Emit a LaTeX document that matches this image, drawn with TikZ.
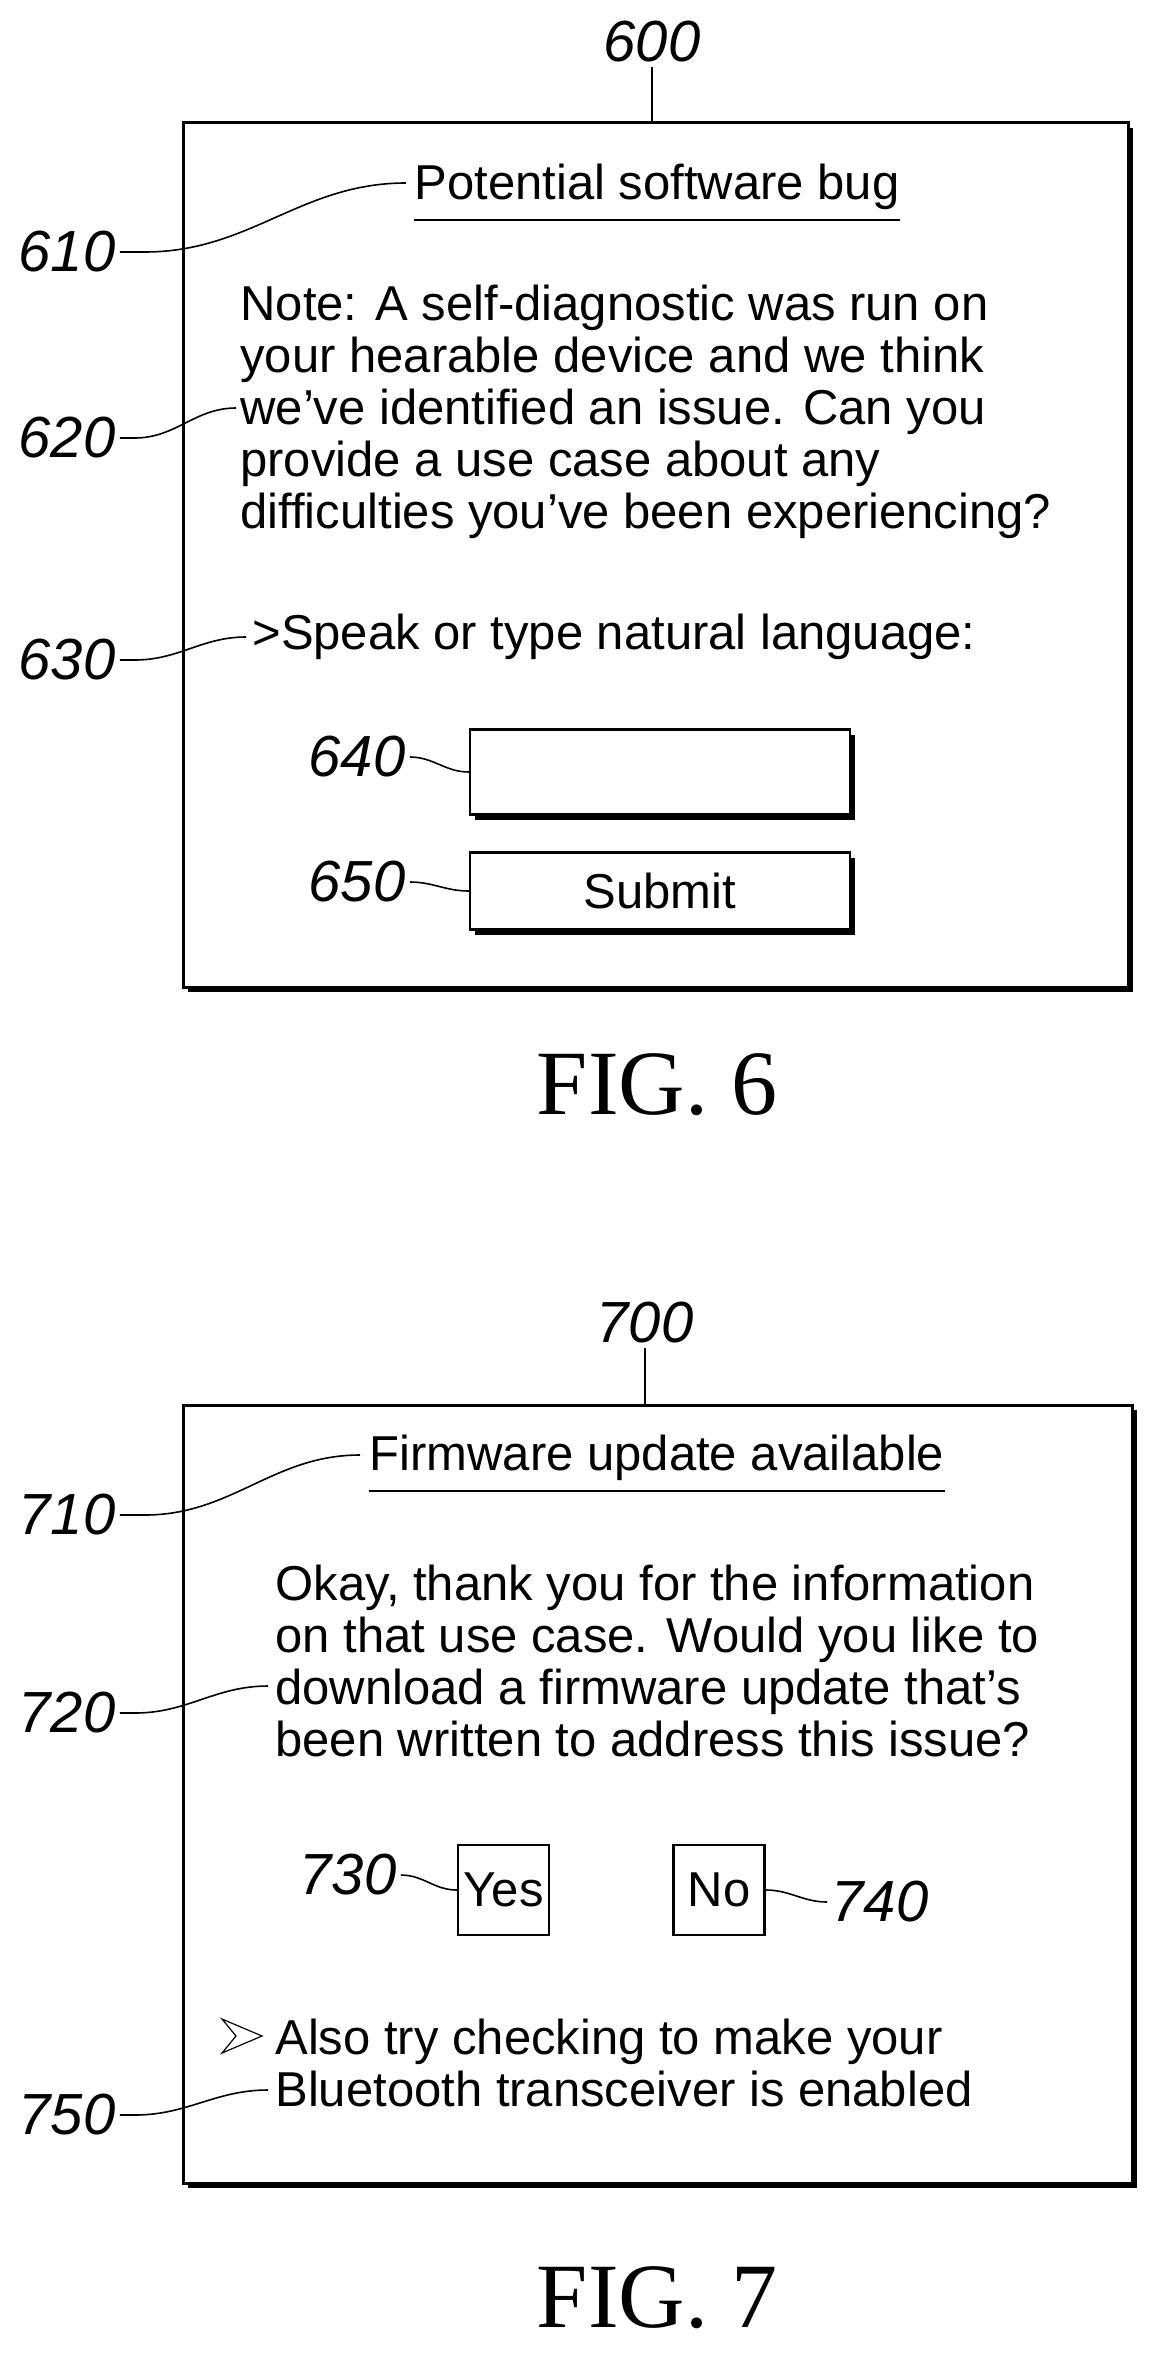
\documentclass[tikz,border=0pt]{standalone}
\usepackage{fontspec}
\setmainfont{Liberation Sans}
\newfontfamily\figfont{Liberation Serif}
\usetikzlibrary{shadows}

\tikzset{
  frame/.style={draw, line width=1.5pt, fill=white, inner sep=0pt,
    drop shadow={shadow xshift=2.5pt, shadow yshift=-2.5pt, opacity=1, fill=black}},
  btn/.style={draw, line width=1.2pt, inner sep=0pt},
  txt/.style={font=\fontsize{24.5}{26}\selectfont, align=left, inner sep=0pt},
  refno/.style={font=\fontsize{29}{32}\selectfont\itshape, inner sep=2pt},
  lead/.style={line width=0.8pt},
  uline/.style={line width=1.2pt},
  figlbl/.style={font=\fontsize{46}{50}\selectfont\figfont}
}

\begin{document}
\begin{tikzpicture}[x=0.5pt, y=-0.5pt]
  \useasboundingbox (0,0) rectangle (1165,2354);

  % FIG. 6
  \node[frame, minimum width=472.5pt, minimum height=432pt] (box6) at (655.5,555) {};
  \node[refno] (r600) at (652,42) {600};
  \draw[lead] (r600.south) to[out=-90,in=90] (box6.north -| r600.south);

  \node[txt, anchor=center] (t610) at (657,187) {Potential software bug};
  \node[txt, anchor=west] (t620) at (240,412) {Note: A self-diagnostic was run on\\
    your hearable device and we think\\we've identified an issue. Can you\\
    provide a use case about any\\difficulties you've been experiencing?};
  \node[txt, anchor=west] (t630) at (252,637) {>Speak or type natural language:};
  \node[btn, frame, line width=1.2pt, minimum width=190pt, minimum height=42.5pt] (b640) at (660,772) {};
  \node[btn, frame, line width=1.2pt, minimum width=190pt, minimum height=38.5pt,
    font=\fontsize{24.5}{26}\selectfont] (b650) at (660,891) {Submit};

  \node[refno] (r610) at (67,252) {610};
  \node[refno] (r620) at (67,438) {620};
  \node[refno] (r630) at (67,660) {630};
  \node[refno] (r640) at (357,757) {640};
  \node[refno] (r650) at (357,882) {650};
  \coordinate (c610) at (406,183);
  \coordinate (c620) at (236,408);
  \coordinate (c630) at (246,637);
  \draw[lead] (r610.east) -- ++(25,0) to[out=0,in=180] (c610);
  \draw[lead] (r620.east) -- ++(15,0) to[out=0,in=180] (c620);
  \draw[lead] (r630.east) -- ++(15,0) to[out=0,in=180] (c630);
  \draw[lead] (r640.east) to[out=0,in=180] (b640.west);
  \draw[lead] (r650.east) to[out=0,in=180] (b650.west);

  \node[figlbl] (fig6) at (657,1085) {FIG. 6};

  % FIG. 7
  \node[frame, minimum width=474.5pt, minimum height=389pt] (box7) at (657.5,1794) {};
  \node[refno] (r700) at (645,1323) {700};
  \draw[lead] (r700.south) to[out=-90,in=90] (box7.north -| r700.south);

  \node[txt, anchor=center] (t710) at (657,1458) {Firmware update available};
  \node[txt, anchor=west] (t720) at (275,1661) {Okay, thank you for the information\\
    on that use case. Would you like to\\download a firmware update that's\\
    been written to address this issue?};
  \node[btn, minimum width=45.5pt, minimum height=45pt,
    font=\fontsize{24.5}{26}\selectfont] (b730) at (503.5,1890) {Yes};
  \node[btn, minimum width=45.5pt, minimum height=45pt,
    font=\fontsize{24.5}{26}\selectfont] (b740) at (719,1890) {No};
  \node[txt, anchor=west] (t750) at (275,2063) {Also try checking to make your\\
    Bluetooth transceiver is enabled};
  \draw[line width=0.6pt] (222,2019) -- (262,2036) -- (222,2053) -- (236,2036) -- cycle;

  \node[refno] (r710) at (67,1515) {710};
  \node[refno] (r720) at (67,1713) {720};
  \node[refno] (r730) at (348,1875) {730};
  \node[refno] (r740) at (880,1902) {740};
  \node[refno] (r750) at (67,2115) {750};
  \coordinate (c710) at (360,1455);
  \coordinate (c720) at (268,1686);
  \coordinate (c750) at (268,2090);
  \draw[lead] (r710.east) -- ++(25,0) to[out=0,in=180] (c710);
  \draw[lead] (r720.east) -- ++(15,0) to[out=0,in=180] (c720);
  \draw[lead] (r730.east) to[out=0,in=180] (b730.west);
  \draw[lead] (b740.east) to[out=0,in=180] (r740.west);
  \draw[lead] (r750.east) -- ++(15,0) to[out=0,in=180] (c750);

  % underlines of the two titles
  \draw[uline] ([yshift=-5pt]t610.south west) -- ([yshift=-5pt]t610.south east);
  \draw[uline] ([yshift=-5pt]t710.south west) -- ([yshift=-5pt]t710.south east);

  \node[figlbl] (fig7) at (657,2298) {FIG. 7};
\end{tikzpicture}
\end{document}
